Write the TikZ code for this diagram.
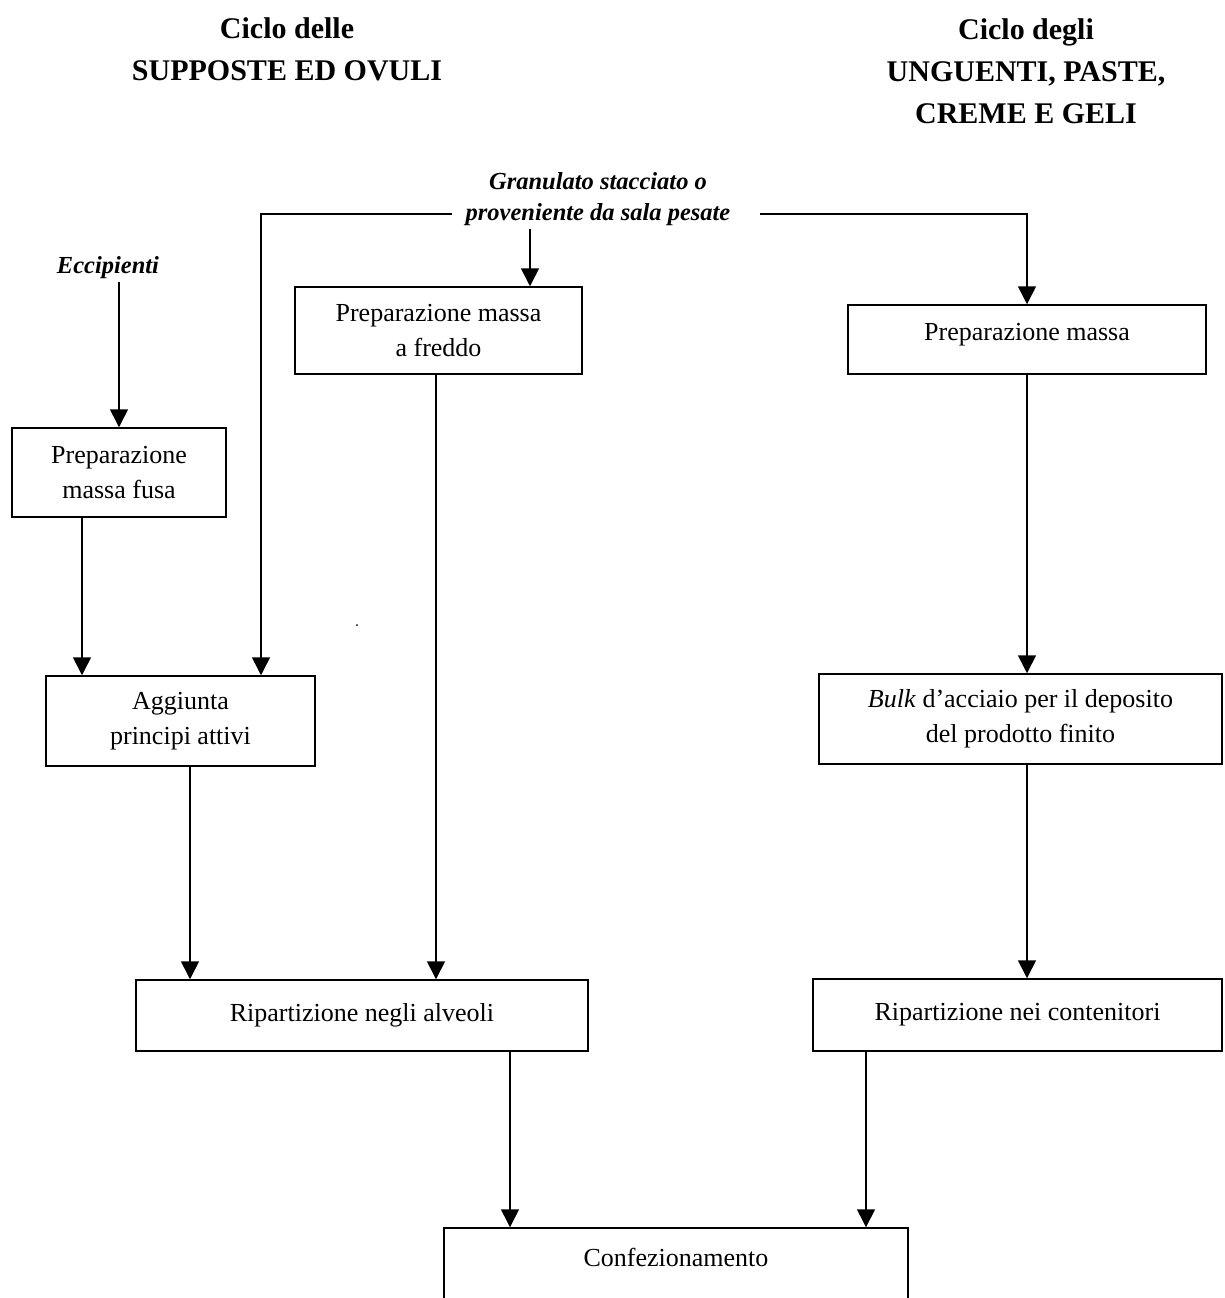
\documentclass[tikz,border=0pt]{standalone}
\usepackage{fontspec}
\setmainfont{Liberation Serif}
\usetikzlibrary{arrows.meta}
\begin{document}
\begin{tikzpicture}[x=1pt,y=-1pt,
  box/.style={draw, line width=1.5pt, align=center, inner sep=0pt,
    font=\fontsize{26}{35}\selectfont},
  boxtext/.style={align=center, inner sep=0pt, font=\fontsize{26}{35}\selectfont},
  title/.style={align=center, inner sep=0pt, font=\bfseries\fontsize{30}{42}\selectfont},
  source/.style={align=center, inner sep=3pt, font=\bfseries\itshape\fontsize{24.5}{31}\selectfont},
  flow/.style={line width=1.6pt, -{Triangle[length=18pt,width=18pt]}}]

\useasboundingbox (0,0) rectangle (1224,1298);
\clip (0,0) rectangle (1224,1298);

% column headings
\node[title] (tleft)  at (287,49)  {Ciclo delle\\SUPPOSTE ED OVULI};
\node[title] (tright) at (1026,71) {Ciclo degli\\UNGUENTI, PASTE,\\CREME E GELI};

% inputs
\node[source] (ecc)  at (108,268) {Eccipienti};
\node[source] (gran) at (598,199) {Granulato stacciato o\\proveniente da sala pesate};

% process steps
\node[box, minimum width=214pt, minimum height=89pt] (fusa)    at (119,472.5)  {Preparazione\\massa fusa};
\node[box, minimum width=287pt, minimum height=87pt] (freddo)  at (438.5,330.5) {Preparazione massa\\a freddo};
\node[box, minimum width=358pt, minimum height=69pt] (massa)   at (1027,339.5) {\raisebox{5pt}[18pt][6pt]{Preparazione massa}};
\node[box, minimum width=269pt, minimum height=90pt] (aggiunta) at (180.5,721)  {Aggiunta\\principi attivi};
\node[box, minimum width=403pt, minimum height=90pt] (bulk)    at (1020.5,719) {\textit{Bulk} d’acciaio per il deposito\\del prodotto finito};
\node[box, minimum width=452pt, minimum height=71pt] (alveoli) at (362,1015.5) {Ripartizione negli alveoli};
\node[box, minimum width=409pt, minimum height=72pt] (conten)  at (1017.5,1015) {Ripartizione nei contenitori};
\node[box, minimum width=464pt, minimum height=140pt] (conf)   at (676,1298) {};
\node[boxtext] (conftext) at ([yshift=-30pt]conf.north) {Confezionamento};

% branch points and off-centre connector ends
\coordinate (gl) at (452,214);
\coordinate (gr) at (760,214);
\coordinate (ain)  at ([xshift=80.5pt]aggiunta.north);
\coordinate (fin)  at ([xshift=91.5pt]freddo.north);
\coordinate (dout) at ([xshift=-2.5pt]freddo.south);
\coordinate (fout) at ([xshift=-37pt]fusa.south);
\coordinate (aout) at ([xshift=9.5pt]aggiunta.south);
\coordinate (lout) at ([xshift=148pt]alveoli.south);
\coordinate (cout) at ([xshift=-151.5pt]conten.south);

% connectors
\draw[flow] (ecc.south -| fusa.north) -- (fusa.north);
\draw[flow] (gl) -| (ain);
\draw[flow] (gr) -| (massa.north);
\draw[flow] (gran.south -| fin) -- (fin);
\draw[flow] (fout) -- (fout |- aggiunta.north);
\draw[flow] (aout) -- (aout |- alveoli.north);
\draw[flow] (dout) -- (dout |- alveoli.north);
\draw[flow] (massa.south) -- (massa.south |- bulk.north);
\draw[flow] (massa.south |- bulk.south) -- (massa.south |- conten.north);
\draw[flow] (lout) -- (lout |- conf.north);
\draw[flow] (cout) -- (cout |- conf.north);

% stray mark
\fill (357,625) circle (1pt);
\end{tikzpicture}
\end{document}
